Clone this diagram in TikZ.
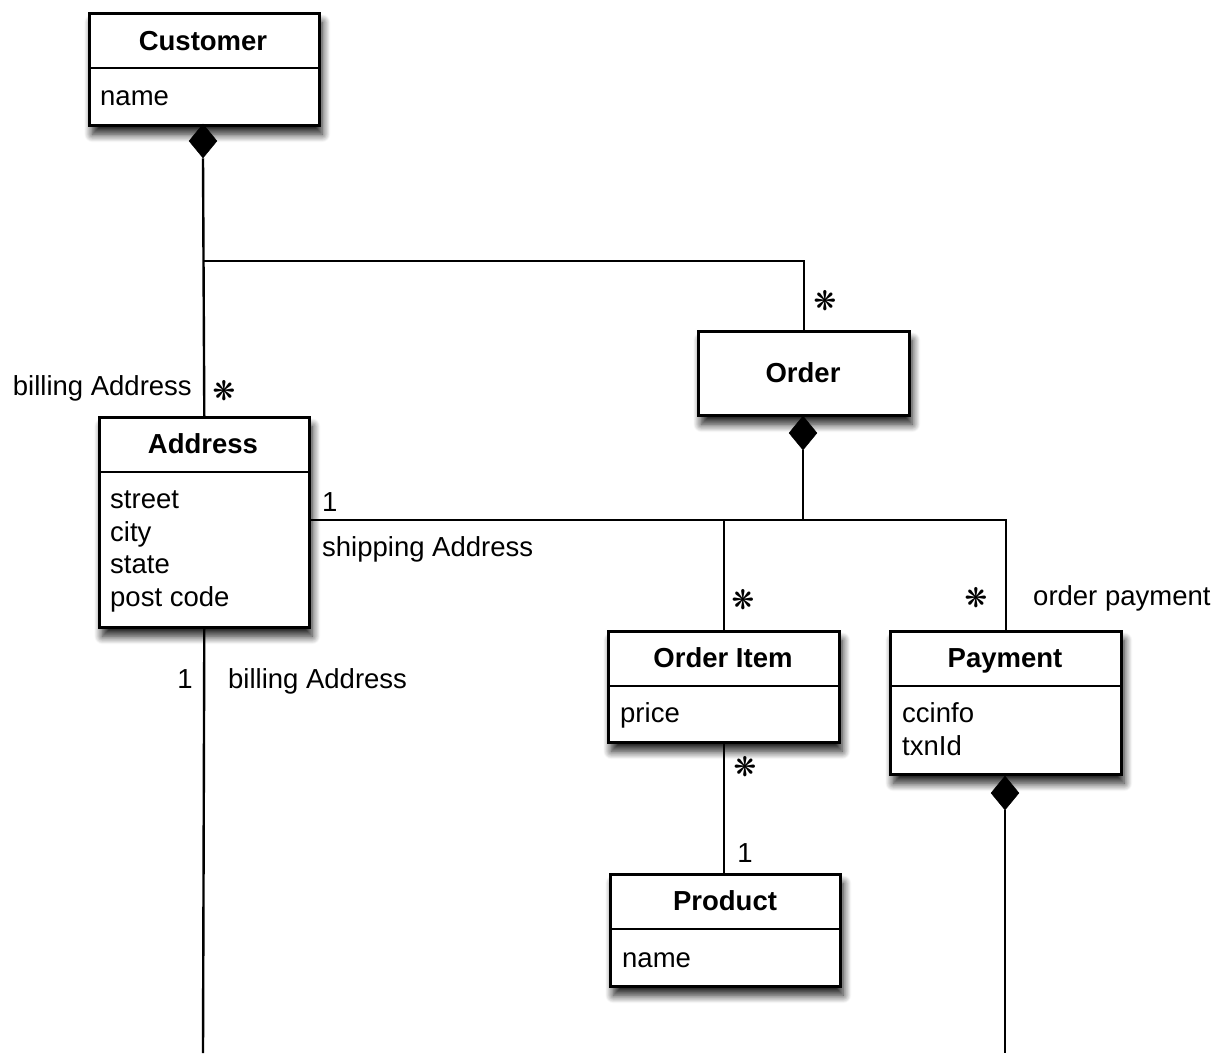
\documentclass[tikz,border=0pt]{standalone}
\usepackage{fontspec}
\setmainfont{Liberation Sans}
\newfontfamily\symfont{DejaVu Sans}
\usetikzlibrary{shapes.geometric,shadows,shadows.blur}
\begin{document}
\begin{tikzpicture}[x=1pt,y=-1pt,
  classbox/.style={draw=black, line width=2.6pt, fill=white, rectangle, inner sep=0pt,
     anchor=north west,
     blur shadow={shadow xshift=3pt, shadow yshift=-9pt, shadow blur radius=8pt, shadow blur steps=12, shadow opacity=90}},
  divider/.style={line width=2.4pt},
  ctitle/.style={font=\bfseries\fontsize{27.5}{30}\selectfont, anchor=base, inner sep=0pt},
  attr/.style={font=\fontsize{27.5}{30}\selectfont, anchor=base west, inner sep=0pt},
  lbl/.style={font=\fontsize{27.5}{30}\selectfont, inner sep=0pt},
  mult/.style={font=\symfont\fontsize{27}{27}\selectfont, inner sep=0pt},
  diam/.style={diamond, fill=black, draw=black, line width=0.5pt, minimum width=28pt, minimum height=34pt, inner sep=0pt},
  conn/.style={line width=2.4pt}]
\useasboundingbox (0,0) rectangle (1221,1053);

% Customer
\node[classbox, minimum width=230pt, minimum height=112pt] (cust) at (88,12) {};
\draw[divider] (88,68) -- (318,68);
\node[ctitle] (custT) at (203,50) {Customer};
\node[attr] (custA) at (100,105) {name};

% Order
\node[classbox, minimum width=211pt, minimum height=84pt] (order) at (697,330) {};
\node[ctitle] (orderT) at (803,382) {Order};

% Address
\node[classbox, minimum width=210pt, minimum height=210pt] (addr) at (98,416) {};
\draw[divider] (98,472) -- (308,472);
\node[ctitle] (addrT) at (203,453) {Address};
\node[attr] (addrA1) at (110,508) {street};
\node[attr] (addrA2) at (110,541) {city};
\node[attr] (addrA3) at (110,573) {state};
\node[attr] (addrA4) at (110,606) {post code};

% Order Item
\node[classbox, minimum width=231pt, minimum height=111pt] (oitem) at (607,630) {};
\draw[divider] (607,686) -- (838,686);
\node[ctitle] (oitemT) at (723,667) {Order Item};
\node[attr] (oitemA) at (620,722) {price};

% Payment
\node[classbox, minimum width=231pt, minimum height=143pt] (pay) at (889,630) {};
\draw[divider] (889,686) -- (1120,686);
\node[ctitle] (payT) at (1005,667) {Payment};
\node[attr] (payA1) at (902,722) {ccinfo};
\node[attr] (payA2) at (902,755) {txnId};

% Product
\node[classbox, minimum width=230pt, minimum height=112pt] (prod) at (609,873) {};
\draw[divider] (609,929) -- (839,929);
\node[ctitle] (prodT) at (725,910) {Product};
\node[attr] (prodA) at (622,967) {name};

% diamonds
\node[diam] (custD) at (203,141) {};
\node[diam] (orderD) at (803,433) {};
\node[diam] (payD) at (1005,793) {};

% junction coordinates
\coordinate (j1) at (203,261);
\coordinate (j2) at (803,520);
\coordinate (b1) at (203,1053);
\coordinate (b2) at (1005,1053);

% connectors
\draw[conn] (custD.south) -- (addr.north);
\draw[conn] (j1) -| (order.north);
\draw[conn] (orderD.south) -- (j2);
\draw[conn] (addr.east |- j2) -| (pay.north);
\draw[conn] (oitem.north |- j2) -- (oitem.north);
\draw[conn] (oitem.south) -- (oitem.south |- prod.north);
\draw[conn] (addr.south) -- (b1);
\draw[conn] (payD.south) -- (b2);

% labels
\node[lbl, anchor=base east] (l1) at (192,395) {billing Address};
\node[mult] (m1) at (224,391) {❋};
\node[mult] (m2) at (825,301) {❋};
\node[lbl, anchor=base west] (l2) at (322,511) {1};
\node[lbl, anchor=base west] (l3) at (322,556) {shipping Address};
\node[lbl, anchor=base] (l4) at (185,688) {1};
\node[lbl, anchor=base west] (l5) at (228,688) {billing Address};
\node[mult] (m3) at (743,600) {❋};
\node[mult] (m4) at (976,598) {❋};
\node[lbl, anchor=base west] (l6) at (1033,605) {order payment};
\node[mult] (m5) at (745,767) {❋};
\node[lbl, anchor=base] (l7) at (745,862) {1};
\end{tikzpicture}
\end{document}
